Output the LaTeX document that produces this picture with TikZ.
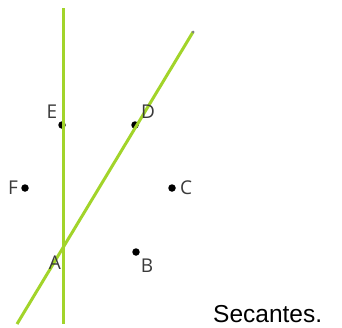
\documentclass[tikz,border=0pt]{standalone}
\usepackage{fontspec}
\setmainfont{Liberation Sans}
\newfontfamily\ptfont{Open Sans}
\definecolor{lineagreen}{HTML}{A2D42A}
\definecolor{ptgray}{HTML}{3A3A3A}
\tikzset{
  recta/.style={lineagreen, line width=3pt},
  punto/.style={circle, fill=black, inner sep=0pt, minimum size=7.5pt},
  etiqueta/.style={text=ptgray, font=\ptfont\fontsize{19}{19}\selectfont, inner sep=0pt}
}
\begin{document}
\begin{tikzpicture}[x=1pt, y=-1pt]
                \useasboundingbox (0,0) rectangle (342,327);

                % Extremos de las rectas
                \coordinate (v1) at (63,8);
                \coordinate (v2) at (63,324);
                \coordinate (d1) at (17,324);
                \coordinate (d2) at (193,32);

                % Puntos
                \node[punto] (E) at (62,125) {};
                \node[punto] (D) at (135,125) {};
                \node[punto] (F) at (25,188) {};
                \node[punto] (C) at (172,188) {};
                \node[punto] (B) at (136,252) {};

                % Rectas secantes
                \draw[recta] (v1) -- (v2);
                \draw[recta] (d1) -- (d2);
                \node[circle, fill=gray, inner sep=0pt, minimum size=3pt] (d2tip) at (d2) {};

                % Etiquetas
                \node[etiqueta] (lE) at (52,112) {E};
                \node[etiqueta] (lD) at (148,112) {D};
                \node[etiqueta] (lF) at (13,188) {F};
                \node[etiqueta] (lC) at (186,188) {C};
                \node[etiqueta] (lA) at (55,263) {A};
                \node[etiqueta] (lB) at (147,266) {B};

                \node[font=\fontsize{24.5}{24.5}\selectfont, inner sep=0pt, anchor=base west] (titulo) at (213,322) {Secantes.};
            \end{tikzpicture}
\end{document}
